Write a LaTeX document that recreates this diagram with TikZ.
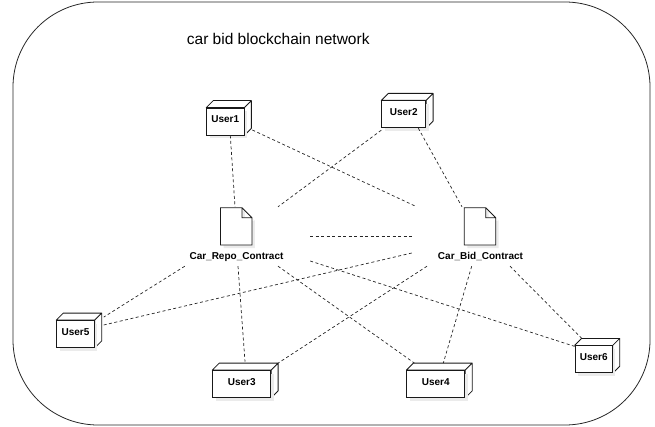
\documentclass[tikz,border=0pt]{standalone}
\usepackage{fontspec}
\setmainfont{Liberation Sans}
\usetikzlibrary{shadows}
\begin{document}
\begin{tikzpicture}[x=1pt,y=-1pt,
    link/.style={draw=black!85, line width=0.7pt, dash pattern=on 3pt off 2.5pt},
    usernode/.style={draw=black!90, fill=white, line width=0.8pt, minimum height=27pt, inner sep=0pt,
        text height=7pt, text depth=4pt, font=\fontsize{10}{12}\selectfont\bfseries,
        drop shadow={shadow xshift=3pt, shadow yshift=-3pt, fill=black!8, opacity=1},
        append after command={\pgfextra{
            \draw[draw=black!90, fill=white, line width=0.8pt, line join=round]
            (\tikzlastnode.north west) -- ++(7,-7) -| ([shift={(7,-7)}]\tikzlastnode.south east)
            -- (\tikzlastnode.south east) |- (\tikzlastnode.north west) -- cycle
            (\tikzlastnode.north east) -- ++(7,-7);}}},
    docnode/.style={minimum width=31pt, minimum height=37pt, inner sep=0pt,
        append after command={\pgfextra{
            \draw[draw=black!90, fill=white, line width=0.8pt,
             drop shadow={shadow xshift=3pt, shadow yshift=-3pt, fill=black!8, opacity=1}]
            (\tikzlastnode.south west) |- ([xshift=-10pt]\tikzlastnode.north east)
            -- ([yshift=-10pt]\tikzlastnode.north east) |- (\tikzlastnode.south west) -- cycle
            ([xshift=-10pt]\tikzlastnode.north east) |- ([yshift=-10pt]\tikzlastnode.north east);}}},
    contract/.style={minimum width=125pt, minimum height=59pt, inner sep=0pt},
    lbl/.style={font=\fontsize{10}{12}\selectfont\bfseries, inner sep=0pt}]
    \useasboundingbox (0,0) rectangle (655,427);
    \draw[rounded corners=85pt, line width=0.8pt, draw=black!85] (13,2) rectangle (650,425);
    \node[font=\fontsize{15.5}{18}\selectfont, anchor=base west, inner sep=0pt] (title) at (186.7,44.3) {car bid blockchain network};

    % contracts
    \node[contract] (repo) at (247.5,236.5) {};
    \node[contract] (bid) at (474.5,236.5) {};
    \node[docnode] (repodoc) at (236.2,226.4) {};
    \node[docnode] (biddoc) at (480,226.4) {};
    \node[lbl, anchor=base] (repolbl) at (236.5,259.5) {Car\_Repo\_Contract};
    \node[lbl, anchor=base] (bidlbl) at (480.5,260) {Car\_Bid\_Contract};

    % users
    \node[usernode, minimum width=37.3pt] (user1) at (225.3,121.5) {User1};
    \node[usernode, minimum width=44pt] (user2) at (403.7,114.3) {User2};
    \node[usernode, minimum width=58pt] (user3) at (241.7,384) {User3};
    \node[usernode, minimum width=58pt] (user4) at (435.8,384) {User4};
    \node[usernode, minimum width=37.6pt] (user5) at (75.5,334) {User5};
    \node[usernode, minimum width=37.3pt] (user6) at (593.7,359.3) {User6};

    \draw[link] ([shift={(5,0)}]user1.south) -- ([shift={(-12.5,0)}]repo.north);
    \draw[link] ([shift={(8,8.5)}]user1.east) -- ([shift={(5,0)}]bid.north west);
    \draw[link] ([shift={(0,2)}]user2.south west) -- ([shift={(30.5,0)}]repo.north);
    \draw[link] ([shift={(14.6,0)}]user2.south) -- ([shift={(-12.5,0)}]bid.north);
    \draw[link] (repo.east) -- (bid.west);
    \draw[link] (repo.south west) -- ([shift={(9,-3)}]user5.north east);
    \draw[link] ([shift={(0,16.5)}]bid.west) -- ([shift={(9,-9)}]user5.east);
    \draw[link] ([shift={(-9.5,0)}]repo.south) -- ([shift={(3.3,-8.5)}]user3.north);
    \draw[link] ([shift={(-47.5,0)}]bid.south) -- ([shift={(7,-7)}]user3.north east);
    \draw[link] ([shift={(30.5,0)}]repo.south) -- ([shift={(8,-7)}]user4.north west);
    \draw[link] ([shift={(0,24.5)}]repo.east) -- ([shift={(0,1)}]user6.north west);
    \draw[link] ([shift={(-2.8,0)}]bid.south) -- ([shift={(7.5,-7)}]user4.north);
    \draw[link] ([shift={(35.5,0)}]bid.south) -- ([shift={(7,-7)}]user6.north west);
\end{tikzpicture}
\end{document}
